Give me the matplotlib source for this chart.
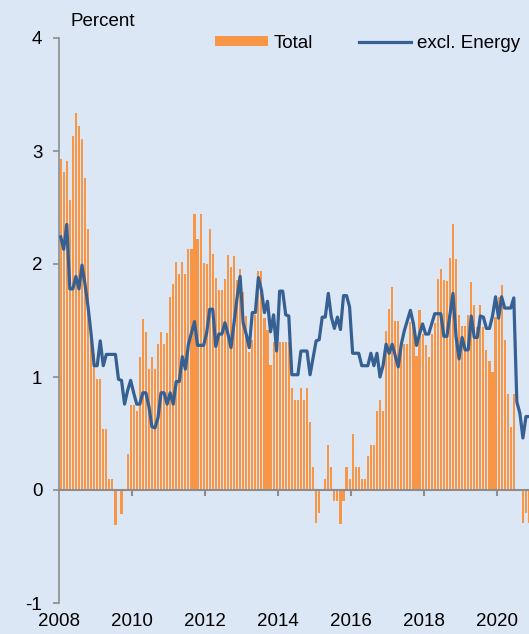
import numpy as np
import matplotlib
matplotlib.use("Agg")
import matplotlib.pyplot as plt

plt.rcParams['font.family'] = ['Liberation Sans', 'DejaVu Sans']

# Monthly data, Jan 2008 - Nov 2020 (percent)
total = [
    2.93, 2.81, 2.91, 2.57, 3.13, 3.34, 3.22, 3.11, 2.76, 2.31, 1.42, 1.21,
    0.98, 0.98, 0.54, 0.54, 0.10, 0.10, -0.31, 0.00, -0.21, 0.00, 0.32, 0.75,
    0.75, 0.70, 1.18, 1.51, 1.40, 1.07, 1.18, 1.07, 1.29, 1.40, 1.29, 1.39,
    1.71, 1.82, 2.02, 1.91, 2.02, 1.91, 2.13, 2.13, 2.44, 2.22, 2.44, 2.01,
    2.00, 2.31, 2.09, 1.88, 1.77, 1.77, 1.87, 2.08, 1.97, 2.07, 1.86, 1.96,
    1.75, 1.54, 1.22, 1.33, 1.55, 1.94, 1.94, 1.52, 1.42, 1.11, 1.31, 1.31,
    1.31, 1.31, 1.31, 1.31, 0.90, 0.80, 0.80, 0.90, 0.80, 0.90, 0.60, 0.20,
    -0.29, -0.20, 0.00, 0.10, 0.40, 0.20, -0.10, -0.10, -0.30, -0.10, 0.20, 0.10,
    0.50, 0.20, 0.20, 0.10, 0.10, 0.30, 0.40, 0.40, 0.70, 0.80, 0.70, 1.41,
    1.60, 1.80, 1.50, 1.50, 1.29, 1.29, 1.29, 1.49, 1.49, 1.19, 1.59, 1.38,
    1.28, 1.18, 1.38, 1.48, 1.87, 1.96, 1.86, 1.85, 2.05, 2.35, 2.04, 1.55,
    1.45, 1.45, 1.55, 1.84, 1.64, 1.44, 1.64, 1.44, 1.24, 1.14, 1.04, 1.53,
    1.71, 1.81, 1.33, 0.85, 0.56, 0.85, 0.00, 0.00, -0.29, -0.20, -0.29,
]
excl_energy = [
    2.24, 2.13, 2.35, 1.78, 1.78, 1.89, 1.78, 1.99, 1.82, 1.62, 1.38, 1.10,
    1.10, 1.32, 1.10, 1.20, 1.20, 1.20, 1.20, 0.98, 0.97, 0.76, 0.88, 0.97,
    0.86, 0.76, 0.76, 0.86, 0.86, 0.74, 0.56, 0.55, 0.64, 0.86, 0.86, 0.76,
    0.86, 0.76, 0.96, 0.96, 1.18, 1.07, 1.29, 1.39, 1.49, 1.28, 1.28, 1.28,
    1.39, 1.60, 1.60, 1.27, 1.38, 1.38, 1.48, 1.38, 1.26, 1.48, 1.70, 1.89,
    1.48, 1.38, 1.26, 1.57, 1.57, 1.88, 1.77, 1.57, 1.67, 1.40, 1.55, 1.23,
    1.76, 1.76, 1.55, 1.54, 1.02, 1.02, 1.02, 1.23, 1.23, 1.23, 1.02, 1.17,
    1.32, 1.33, 1.53, 1.53, 1.74, 1.53, 1.43, 1.53, 1.42, 1.72, 1.72, 1.62,
    1.21, 1.21, 1.21, 1.10, 1.10, 1.10, 1.21, 1.10, 1.21, 1.00, 1.10, 1.29,
    1.21, 1.29, 1.19, 1.09, 1.29, 1.41, 1.50, 1.59, 1.47, 1.28, 1.38, 1.47,
    1.38, 1.38, 1.47, 1.56, 1.56, 1.56, 1.36, 1.36, 1.55, 1.74, 1.36, 1.16,
    1.35, 1.24, 1.24, 1.54, 1.35, 1.35, 1.54, 1.53, 1.43, 1.43, 1.54, 1.71,
    1.52, 1.71, 1.61, 1.61, 1.61, 1.70, 0.78, 0.68, 0.46, 0.65, 0.65,
]
year_labels = ["2008", "2010", "2012", "2014", "2016", "2018", "2020"]

bg = '#DCE7F6'
orange = '#F79646'
blue = '#366092'
grey = '#8C8C8C'
fs = 13.5

x = np.arange(len(total))

fig = plt.figure(figsize=(5.29, 6.34), dpi=100, facecolor=bg)
ax = fig.add_axes([59 / 529, 1 - 603 / 634, 1 - 59 / 529, (603 - 38) / 634])
ax.set_facecolor(bg)

bars = ax.bar(x, total, width=0.7, color=orange, label="Total", zorder=2)
line, = ax.plot(x, excl_energy, color=blue, lw=2.3, label="excl. Energy", zorder=3)

ax.set_xlim(-0.56, 154.0)
ax.set_ylim(-1, 4)

# spines
for s in ['top', 'right']:
    ax.spines[s].set_visible(False)
ax.spines['left'].set_color(grey)
ax.spines['left'].set_linewidth(1.2)
ax.spines['bottom'].set_position(('data', 0))
ax.spines['bottom'].set_color(grey)
ax.spines['bottom'].set_linewidth(1.5)
ax.spines['bottom'].set_zorder(4)

ax.set_yticks([-1, 0, 1, 2, 3, 4])
ax.set_yticklabels(["-1", "0", "1", "2", "3", "4"])
ax.tick_params(axis='y', direction='out', length=4, width=1.2, color=grey,
               labelsize=fs, pad=8)

# year ticks on the zero line, labels at the bottom
tick_pos = [-0.5 + 24 * k for k in range(len(year_labels))]
ax.set_xticks(tick_pos[1:])
ax.tick_params(axis='x', direction='out', length=4, width=1.5, color=grey,
               labelbottom=False)
for pos, lab in zip(tick_pos, year_labels):
    ax.text(pos, -1.168, lab, ha='center', va='center', fontsize=fs)

fig.text(70 / 529, 1 - 22 / 634, "Percent", ha='left', va='center', fontsize=fs)

ax.legend([bars, line], ["Total", "excl. Energy"],
          loc='center left', bbox_to_anchor=(215 / 529, 1 - 43 / 634),
          bbox_transform=fig.transFigure, ncol=2, frameon=False,
          fontsize=fs, handlelength=2.8, handletextpad=0.32,
          columnspacing=2.45, borderpad=0, borderaxespad=0, handleheight=0.45)

fig.savefig("out.png", dpi=100, facecolor=bg)
